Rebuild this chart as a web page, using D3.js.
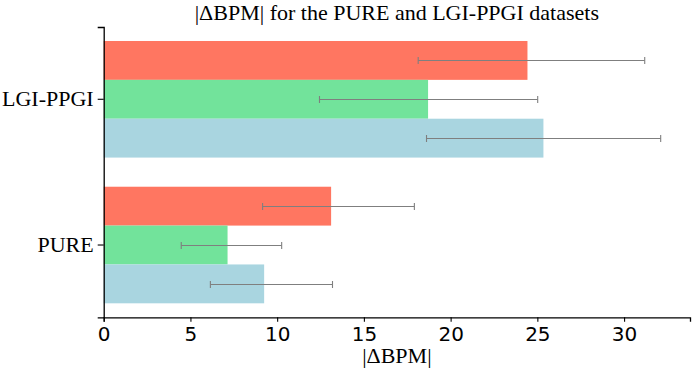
<!DOCTYPE html>
<html>
<head>
<meta charset="utf-8">
<script src="https://cdn.jsdelivr.net/npm/d3@7"></script>
<style>
  html, body { margin: 0; padding: 0; background: #fff; }
  svg { display: block; }
</style>
</head>
<body>
<svg id="chart" width="692" height="368"></svg>
<script>
// ---- data ----
const categories = ["LGI-PPGI", "PURE"];
const seriesNames = ["series A", "series B", "series C"];
const seriesColors = ["#FF7661", "#72E39B", "#A9D5E0"];
// mean |ΔBPM| per category, per series
const valuesA = [24.43, 13.11];
const valuesB = [18.70, 7.14];
const valuesC = [25.35, 9.25];
// error bar lower / upper ends
const lowA = [18.13, 9.16];
const highA = [31.19, 17.91];
const lowB = [12.44, 4.47];
const highB = [25.02, 10.26];
const lowC = [18.61, 6.15];
const highC = [32.11, 13.19];
const xTicks = [0, 5, 10, 15, 20, 25, 30];
const titleText = "|ΔBPM| for the PURE and LGI-PPGI datasets";
const xLabel = "|ΔBPM|";

const seriesValues = [valuesA, valuesB, valuesC];
const seriesLow = [lowA, lowB, lowC];
const seriesHigh = [highA, highB, highC];

// ---- layout ----
const svg = d3.select("#chart");
const mLeft = 103.7, mRight = 690, mTop = 27, mBottom = 317.3;

const x = d3.scaleLinear().domain([0, 33.8]).range([mLeft, mRight]);
const y = d3.scaleBand().domain(categories).range([mTop, mBottom])
  .paddingInner(0.2).paddingOuter(0.096);
const ySub = d3.scaleBand().domain(seriesNames).range([0, y.bandwidth()]);

const serif = "'Liberation Serif', 'Times New Roman', serif";
const sans = "'DejaVu Sans', sans-serif";

// bars
seriesNames.forEach((s, si) => {
  const g = svg.append("g");
  g.selectAll("rect").data(categories).join("rect")
    .attr("x", x(0))
    .attr("y", c => y(c) + ySub(s))
    .attr("width", (c, i) => x(seriesValues[si][i]) - x(0))
    .attr("height", ySub.bandwidth())
    .attr("fill", seriesColors[si]);
});

// error bars
seriesNames.forEach((s, si) => {
  const g = svg.append("g").attr("stroke", "#7f7f7f").attr("stroke-width", 1.1);
  categories.forEach((c, i) => {
    const cy = Math.round(y(c) + ySub(s) + ySub.bandwidth() / 2) + 0.5;
    const x0 = x(seriesLow[si][i]), x1 = x(seriesHigh[si][i]);
    g.append("line").attr("x1", x0).attr("x2", x1).attr("y1", cy).attr("y2", cy);
    g.append("line").attr("x1", x0).attr("x2", x0).attr("y1", cy - 3.5).attr("y2", cy + 3.5);
    g.append("line").attr("x1", x1).attr("x2", x1).attr("y1", cy - 3.5).attr("y2", cy + 3.5);
  });
});

// x axis
const xAxis = svg.append("g").attr("transform", `translate(0,${mBottom})`)
  .call(d3.axisBottom(x).tickValues(xTicks).tickFormat(d3.format("d")).tickSizeOuter(0).tickSize(4.5).tickPadding(5));
xAxis.select(".domain").attr("stroke", "#000").attr("stroke-width", 1.3);
xAxis.selectAll(".tick line").attr("stroke", "#000").attr("stroke-width", 1.1);
xAxis.selectAll(".tick text").attr("font-family", sans).attr("font-size", 20).attr("fill", "#000");

// y axis
const yAxis = svg.append("g").attr("transform", `translate(${mLeft},0)`)
  .call(d3.axisLeft(y).tickSizeOuter(0).tickSize(6).tickPadding(4));
yAxis.select(".domain").attr("stroke", "#000").attr("stroke-width", 1.3);
yAxis.selectAll(".tick line").attr("stroke", "#000").attr("stroke-width", 1.1);
yAxis.selectAll(".tick text").attr("font-family", serif).attr("font-size", 22).attr("fill", "#000");

// title
svg.append("text").attr("x", (mLeft + mRight) / 2).attr("y", 20)
  .attr("text-anchor", "middle").attr("font-family", serif).attr("font-size", 22)
  .attr("fill", "#000").text(titleText);

// x label
svg.append("text").attr("x", (mLeft + mRight) / 2).attr("y", 363)
  .attr("text-anchor", "middle").attr("font-family", serif).attr("font-size", 22)
  .attr("fill", "#000").text(xLabel);
</script>
</body>
</html>
